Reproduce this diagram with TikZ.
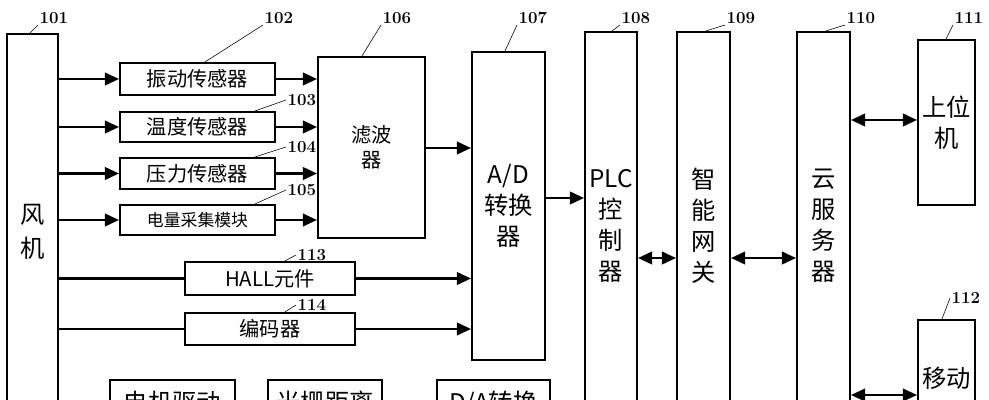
\documentclass[tikz,border=0pt]{standalone}
\usepackage{fontspec}
\newfontfamily\cjk{Noto Sans CJK SC}
\usetikzlibrary{arrows.meta}
\begin{document}
\begin{tikzpicture}[x=0.025cm,y=-0.025cm]
\tikzset{box/.style={draw,line width=1.5pt,fill=white,inner sep=0pt,align=center,font=\cjk\Large},
  num/.style={inner sep=1pt,font=\large\bfseries},
  arr/.style={line width=1.5pt,-{Triangle[length=10pt,width=9pt]}},
  darr/.style={line width=1.5pt,{Triangle[length=10pt,width=9pt]}-{Triangle[length=10pt,width=9pt]}}}
\path[use as bounding box] (0,0) rectangle (989,400);
\clip (0,0) rectangle (989,400);
% blocks
\node[box,minimum width=1.275cm,minimum height=9.9cm] (fan) at (32.5,232) {\LARGE 风\\[6pt]\LARGE 机};
\node[box,minimum width=3.875cm,minimum height=0.8cm] (vib) at (197.5,79) {振动传感器};
\node[box,minimum width=3.875cm,minimum height=0.75cm] (temp) at (197.5,127) {温度传感器};
\node[box,minimum width=3.875cm,minimum height=0.775cm] (pres) at (197.5,173.5) {压力传感器};
\node[box,minimum width=3.875cm,minimum height=0.75cm,font=\cjk\large] (elec) at (197.5,220) {电量采集模块};
\node[box,minimum width=2.675cm,minimum height=4.525cm] (filt) at (371.5,147.5) {滤波\\器};
\node[box,minimum width=4.25cm,minimum height=0.825cm] (hall) at (270,278.5) {HALL元件};
\node[box,minimum width=4.25cm,minimum height=0.8cm] (enc) at (270,329) {编码器};
\node[box,minimum width=1.825cm,minimum height=7.7cm,font=\cjk\LARGE] (ad) at (508.5,206) {A/D\\转换\\器};
\node[box,minimum width=1.3cm,minimum height=9.7cm,font=\cjk\LARGE] (plc) at (611,226) {PLC\\控\\制\\器};
\node[box,minimum width=1.325cm,minimum height=9.7cm,font=\cjk\LARGE] (gw) at (703.5,226) {智\\能\\网\\关};
\node[box,minimum width=1.325cm,minimum height=9.7cm,font=\cjk\LARGE] (cloud) at (823.5,226) {云\\服\\务\\器};
\node[box,minimum width=1.425cm,minimum height=4.125cm,font=\cjk\LARGE] (pc) at (946.5,122.5) {上位\\机};
\node[box,minimum width=1.425cm,minimum height=2.75cm] (mob) at (946.5,375) {};
\node[font=\cjk\LARGE,anchor=north] (mobt) at (946.5,362) {移动};
\node[box,minimum width=3.125cm,minimum height=1.5cm] (drv) at (172.5,410) {};
\node[font=\cjk\LARGE,anchor=north] (drvt) at (172.5,386) {电机驱动};
\node[box,minimum width=2.85cm,minimum height=1.5cm] (grat) at (325,410) {};
\node[font=\cjk\LARGE,anchor=north] (gratt) at (325,386) {光栅距离};
\node[box,minimum width=2.825cm,minimum height=1.5cm] (da) at (493.5,410) {};
\node[font=\cjk\LARGE,anchor=north] (dat) at (493.5,386) {D/A转换};
% signals
\foreach \s in {vib,temp,pres,elec} {
  \draw[arr] (fan.east |- \s.west) -- (\s.west);
  \draw[arr] (\s.east) -- (filt.west |- \s.east);
}
\foreach \s in {hall,enc} {
  \draw[line width=1.5pt] (fan.east |- \s.west) -- (\s.west);
  \draw[arr] (\s.east) -- (ad.west |- \s.east);
}
\draw[arr] (filt.east |- 0,148) -- (ad.west |- 0,148);
\draw[arr] (ad.east |- 0,198) -- (plc.west |- 0,198);
\draw[darr] (plc.east |- 0,258) -- (gw.west |- 0,258);
\draw[darr] (gw.east |- 0,258) -- (cloud.west |- 0,258);
\draw[darr] (cloud.east |- 0,120) -- (pc.west |- 0,120);
\draw[darr] (cloud.east |- 0,395) -- (mob.west |- 0,395);
% reference numbers
\foreach \n/\x in {101/38, 102/263, 106/381, 107/517, 108/620, 109/725, 110/845, 111/953} {
  \node[num,anchor=south west] (n\n) at (\x,25) {\n};
}
\node[num,anchor=west] (n103) at (286,100) {103};
\node[num,anchor=west] (n104) at (286,147) {104};
\node[num,anchor=west] (n105) at (286,190) {105};
\node[num,anchor=west] (n113) at (296,255) {113};
\node[num,anchor=west] (n114) at (296,305) {114};
\node[num,anchor=west] (n112) at (950,298) {112};
\draw (n101.south west) -- (fan.north -| 30,0);
\draw (n102.south west) -- (vib.north -| 205,0);
\draw (n106.south west) -- (filt.north -| 362,0);
\draw (n107.south west) -- (ad.north -| 505,0);
\draw (n108.south west) -- (plc.north -| 612,0);
\draw (n109.south west) -- (gw.north -| 706,0);
\draw (n110.south west) -- (cloud.north -| 826,0);
\draw (n111.south west) -- (pc.north -| 946,0);
\draw (n103.west) -- (temp.north -| 255,0);
\draw (n104.west) -- (pres.north -| 255,0);
\draw (n105.west) -- (elec.north -| 255,0);
\draw (n113.west) -- (hall.north -| 285,0);
\draw (n114.west) -- (enc.north -| 285,0);
\draw (n112.west) -- (mob.north -| 942,0);
\end{tikzpicture}
\end{document}
